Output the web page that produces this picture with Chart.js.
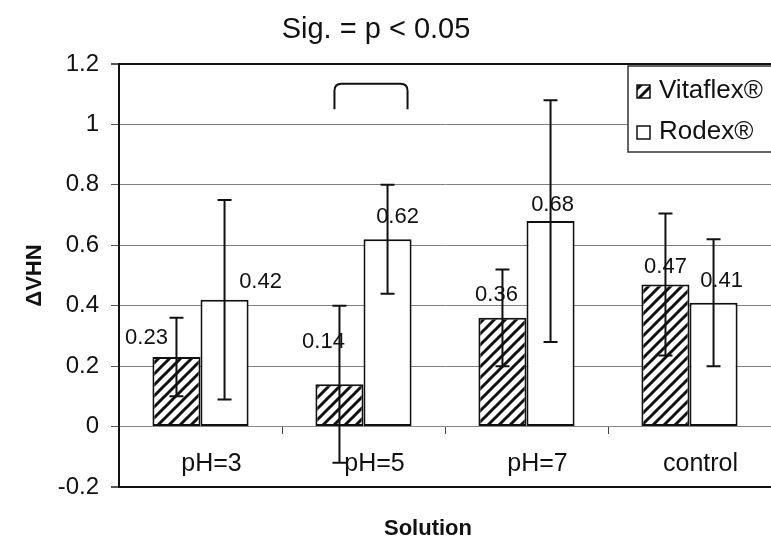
<!DOCTYPE html>
<html>
<head>
<meta charset="utf-8">
<script src="https://cdn.jsdelivr.net/npm/chart.js@4.4.1/dist/chart.umd.min.js"></script>
<style>
  html, body { margin: 0; padding: 0; background: #fff; overflow: hidden; }
  canvas { display: block; }
</style>
</head>
<body>
<canvas id="myChart" width="771" height="541"></canvas>
<script>
// hardness change per storage solution
var solutions = ["pH=3", "pH=5", "pH=7", "control"];
var vitaflex = [0.23, 0.14, 0.36, 0.47];
var rodex = [0.42, 0.62, 0.68, 0.41];
var vitaflexSd = [0.13, 0.26, 0.16, 0.235];
var rodexSd = [0.33, 0.18, 0.40, 0.21];
var yTicks = [-0.2, 0, 0.2, 0.4, 0.6, 0.8, 1, 1.2];

var FONT = "'Liberation Sans', Arial, sans-serif";
var INK = "#111";

// diagonal hatch used for the Vitaflex bars
function makeHatch() {
    var size = 11;
    var c = document.createElement("canvas");
    c.width = size;
    c.height = size;
    var g = c.getContext("2d");
    g.fillStyle = "#fff";
    g.fillRect(0, 0, size, size);
    g.strokeStyle = INK;
    g.lineWidth = 3;
    g.beginPath();
    g.moveTo(-2, size + 2); g.lineTo(size + 2, -2);
    g.moveTo(-2, 2); g.lineTo(2, -2);
    g.moveTo(size - 2, size + 2); g.lineTo(size + 2, size - 2);
    g.stroke();
    return g.createPattern(c, "repeat");
}
var hatch = makeHatch();

// error bars from the sd arrays
var errorBars = {
    id: "errorBars",
    afterDatasetsDraw: function (chart) {
        var ctx = chart.ctx;
        var y = chart.scales.y;
        var sds = [vitaflexSd, rodexSd];
        ctx.save();
        ctx.strokeStyle = INK;
        ctx.lineWidth = 2;
        chart.data.datasets.forEach(function (ds, i) {
            chart.getDatasetMeta(i).data.forEach(function (bar, j) {
                var v = ds.data[j], e = sds[i][j];
                var top = y.getPixelForValue(v + e);
                var bot = y.getPixelForValue(v - e);
                ctx.beginPath();
                ctx.moveTo(bar.x, top); ctx.lineTo(bar.x, bot);
                ctx.moveTo(bar.x - 7, top); ctx.lineTo(bar.x + 7, top);
                ctx.moveTo(bar.x - 7, bot); ctx.lineTo(bar.x + 7, bot);
                ctx.stroke();
            });
        });
        ctx.restore();
    }
};

// value labels, nudged off the error bars
var valueLabels = {
    id: "valueLabels",
    afterDatasetsDraw: function (chart, args, opts) {
        var ctx = chart.ctx;
        ctx.save();
        ctx.font = "22px " + FONT;
        ctx.fillStyle = INK;
        ctx.textAlign = "center";
        ctx.textBaseline = "middle";
        chart.data.datasets.forEach(function (ds, i) {
            chart.getDatasetMeta(i).data.forEach(function (bar, j) {
                var n = opts.nudge[i][j];
                ctx.fillText(ds.data[j].toFixed(2), bar.x + n[0], bar.y + n[1]);
            });
        });
        ctx.restore();
    }
};

// significance bracket over pH=5
var bracket = {
    id: "bracket",
    afterDatasetsDraw: function (chart) {
        var ctx = chart.ctx;
        var y = chart.scales.y;
        var a = chart.getDatasetMeta(0).data[1];
        var b = chart.getDatasetMeta(1).data[1];
        var x0 = a.x - 5, x1 = b.x + 20;
        var yTop = y.getPixelForValue(1.135), yLeg = y.getPixelForValue(1.05);
        var r = 7;
        ctx.save();
        ctx.strokeStyle = INK;
        ctx.lineWidth = 2;
        ctx.beginPath();
        ctx.moveTo(x0, yLeg);
        ctx.lineTo(x0, yTop + r);
        ctx.quadraticCurveTo(x0, yTop, x0 + r, yTop);
        ctx.lineTo(x1 - r, yTop);
        ctx.quadraticCurveTo(x1, yTop, x1, yTop + r);
        ctx.lineTo(x1, yLeg);
        ctx.stroke();
        ctx.restore();
    }
};

// boxed legend inside the plot, title and x caption
var frame = {
    id: "frame",
    afterDraw: function (chart) {
        var ctx = chart.ctx;
        ctx.save();

        var lx = 628, ly = 66;
        ctx.fillStyle = "#fff";
        ctx.fillRect(lx, ly, 200, 86);
        ctx.strokeStyle = "#333";
        ctx.lineWidth = 1.5;
        ctx.strokeRect(lx, ly, 200, 86);

        ctx.fillStyle = hatch;
        ctx.fillRect(637, 85, 13, 13);
        ctx.strokeStyle = INK;
        ctx.strokeRect(637, 85, 13, 13);
        ctx.fillStyle = "#fff";
        ctx.fillRect(637, 126, 13, 13);
        ctx.strokeRect(637, 126, 13, 13);

        ctx.fillStyle = INK;
        ctx.font = "26px " + FONT;
        ctx.textAlign = "left";
        ctx.textBaseline = "middle";
        ctx.fillText(chart.data.datasets[0].label, 659, 91);
        ctx.fillText(chart.data.datasets[1].label, 659, 132);

        ctx.textAlign = "center";
        ctx.font = "29px " + FONT;
        ctx.fillText("Sig. = p < 0.05", 376, 30);
        ctx.font = "bold 22px " + FONT;
        ctx.fillText("Solution", 428, 529);
        ctx.restore();
    }
};

var ctx = document.getElementById("myChart").getContext("2d");

var myChart = new Chart(ctx, {
    type: "bar",
    data: {
        labels: solutions,
        datasets: [
            {
                label: "Vitaflex®",
                data: vitaflex,
                backgroundColor: hatch,
                borderColor: INK,
                borderWidth: 2,
                borderSkipped: false,
                categoryPercentage: 0.59,
                barPercentage: 1.0,
            },
            {
                label: "Rodex®",
                data: rodex,
                backgroundColor: "#fff",
                borderColor: INK,
                borderWidth: 2,
                borderSkipped: false,
                categoryPercentage: 0.59,
                barPercentage: 1.0,
            },
        ],
    },
    options: {
        responsive: false,
        animation: false,
        devicePixelRatio: 1,
        layout: { padding: { top: 64, bottom: 54, left: 0, right: 0 } },
        plugins: {
            legend: { display: false },
            tooltip: { enabled: false },
            title: { display: false },
            valueLabels: {
                nudge: [
                    [[-30, -19], [-16, -42], [-6, -23], [0, -18]],
                    [[36, -18], [10, -22], [2, -16], [8, -22]],
                ],
            },
        },
        scales: {
            x: {
                position: { y: 0 },
                offset: true,
                grid: {
                    drawOnChartArea: false,
                    drawTicks: true,
                    tickLength: 7,
                    tickColor: "#444",
                    offset: true,
                },
                border: { color: "#888", width: 1 },
                ticks: {
                    color: INK,
                    font: { family: FONT, size: 25 },
                    padding: 16,
                    labelOffset: 11,
                    maxRotation: 0,
                },
            },
            y: {
                min: -0.2,
                max: 1.2,
                afterBuildTicks: function (scale) {
                    scale.ticks = yTicks.map(function (v) { return { value: v }; });
                },
                afterFit: function (scale) {
                    scale.width = 119;
                },
                grid: {
                    color: function (c) {
                        return c.index === 0 || c.index === yTicks.length - 1 ? INK : "#808080";
                    },
                    lineWidth: function (c) {
                        return c.index === 0 || c.index === yTicks.length - 1 ? 2 : 1;
                    },
                    tickLength: 8,
                    tickColor: "#555",
                },
                border: { color: INK, width: 2 },
                ticks: {
                    color: INK,
                    font: { family: FONT, size: 24 },
                    padding: 12,
                    callback: function (v) { return String(Number(v.toFixed(1))); },
                },
                title: {
                    display: true,
                    text: "ΔVHN",
                    color: INK,
                    font: { family: FONT, size: 22, weight: "bold" },
                    padding: { top: 22, bottom: 0 },
                },
            },
        },
    },
    plugins: [errorBars, valueLabels, bracket, frame],
});
</script>
</body>
</html>
